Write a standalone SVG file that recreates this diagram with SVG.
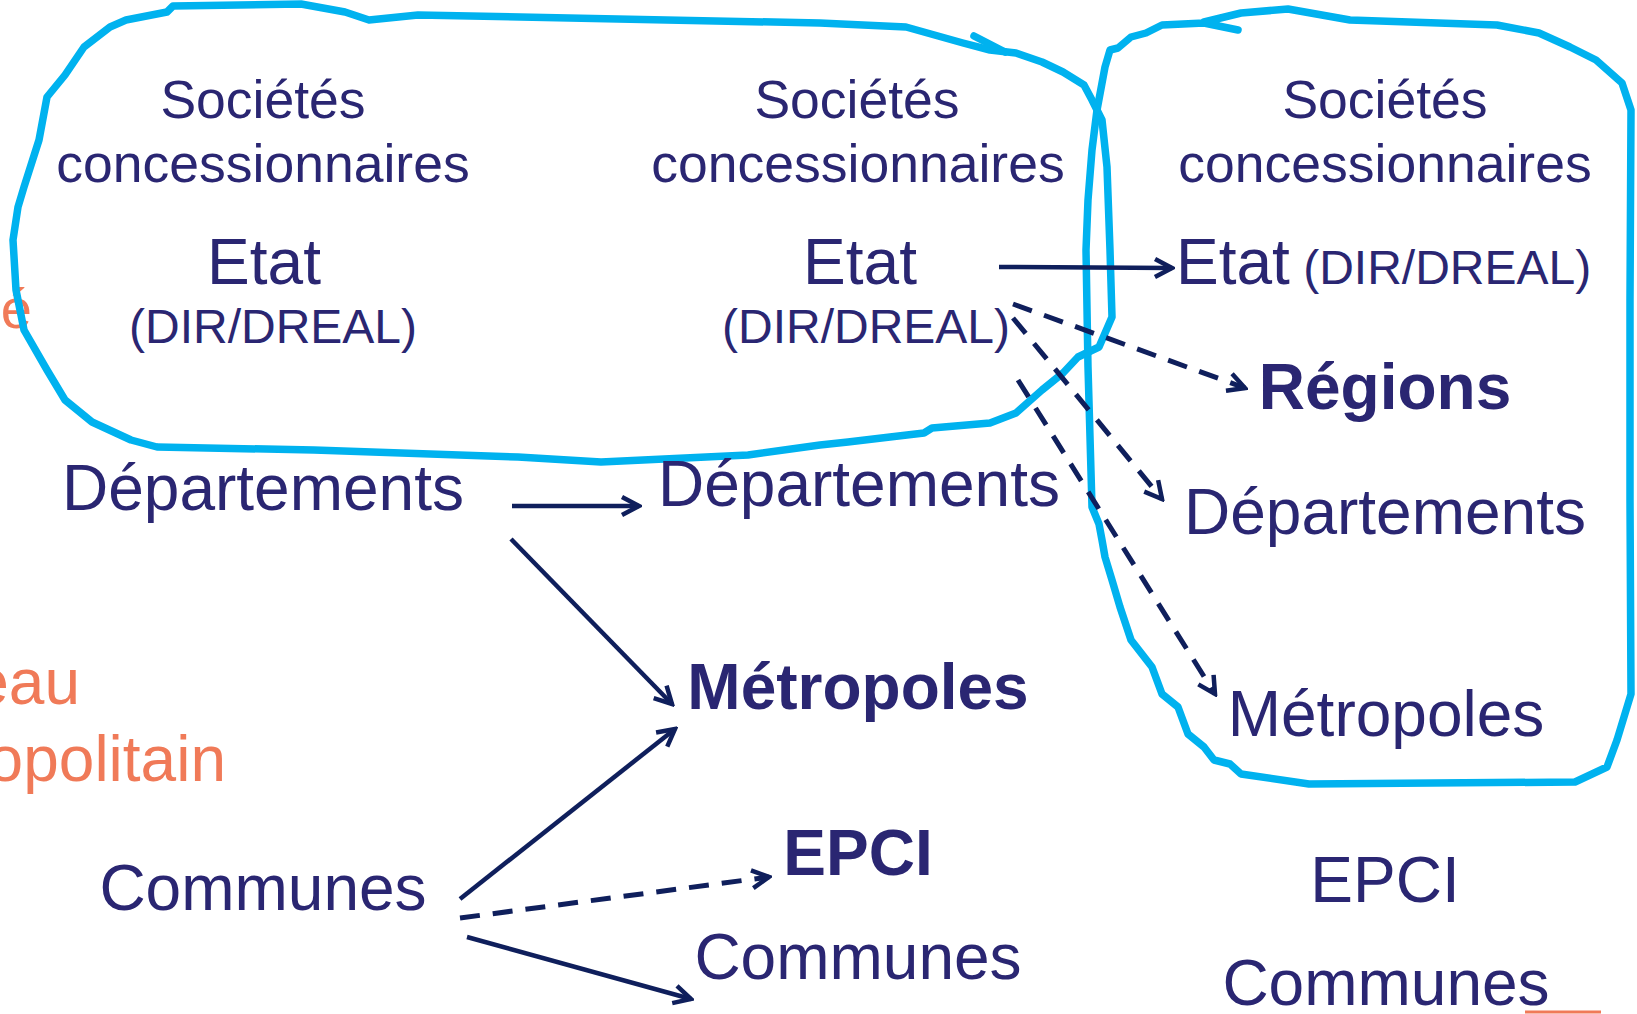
<svg xmlns="http://www.w3.org/2000/svg" width="1637" height="1014" viewBox="0 0 1637 1014">
<style>
text{font-family:"Liberation Sans",Arial,sans-serif;fill:#2A2672;text-anchor:middle}
.s{font-size:53.5px}
.m{font-size:64px}
.d{font-size:48px}
.b{font-weight:bold}
.o{fill:#F07A58;text-anchor:end;font-size:64px}
.loop{fill:none;stroke:#00B2EF;stroke-width:7.5;stroke-linejoin:round;stroke-linecap:round}
.arr{fill:none;stroke:#0F1F5C;stroke-width:4.5;marker-end:url(#ah)}
.dash{stroke-dasharray:20 13;stroke-width:5}
</style>
<defs>
<marker id="ah" viewBox="0 0 24 24" refX="21" refY="12" markerWidth="24" markerHeight="24" markerUnits="userSpaceOnUse" orient="auto">
<path d="M4,3 L21,12 L4,21" fill="none" stroke="#0F1F5C" stroke-width="4.5" stroke-linecap="butt"/>
</marker>
</defs>
<rect width="1637" height="1014" fill="#ffffff"/>
<g id="side-labels">
<text class="o" x="32" y="328" style="font-size:56px">é</text>
<text class="o" x="80" y="704">eau</text>
<text class="o" x="226" y="781">opolitain</text>
<line x1="1525" y1="1012" x2="1601" y2="1012" stroke="#F07A58" stroke-width="3"/>
</g>
<g id="loops">
<path class="loop" d="M173,6 L301,4 L345,12 L369,20 L418,15 L820,23 L906,27 L963,43 L990,50 L1016,53 L1042,62 L1063,72 L1084,85 L1092,100 L1102,120 L1107,167 L1110,250 L1112,317 L1099,347 L1078,357 L1063,373 L1042,390 L1016,413 L990,423 L932,428 L924,433 L890,437 L848,442 L820,445 L748,455 L601,462 L518,457 L314,450 L157,447 L131,440 L92,422 L65,400 L47,370 L24,330 L16,290 L13,240 L18,207 L24,187 L39,140 L47,97 L65,75 L84,47 L110,27 L126,20 L167,12 Z"/>
<path class="loop" d="M974,36 L1005,52"/>
<path class="loop" d="M1204,22 L1241,13 L1288,9 L1350,20 L1497,25 L1539,33 L1570,47 L1596,60 L1622,83 L1631,110 L1630,300 L1630,500 L1631,694 L1617,740 L1607,767 L1575,782 L1309,784 L1241,774 L1230,764 L1214,760 L1204,747 L1188,734 L1178,707 L1162,694 L1152,667 L1131,640 L1120,607 L1112,580 L1105,557 L1102,540 L1099,524 L1092,507 L1088,367 L1086,250 L1088,200 L1092,150 L1097,110 L1105,67 L1110,50 L1118,48 L1131,37 L1146,33 L1162,25 L1204,23 L1238,30"/>
</g>
<g id="col-left">
<text class="s" x="263" y="118">Sociétés</text>
<text class="s" x="263" y="182">concessionnaires</text>
<text class="m" x="264" y="284">Etat</text>
<text class="d" x="273" y="343">(DIR/DREAL)</text>
<text class="m" x="263" y="510">Départements</text>
<text class="m" x="263" y="910">Communes</text>
</g>
<g id="col-middle">
<text class="s" x="857" y="118">Sociétés</text>
<text class="s" x="858" y="182">concessionnaires</text>
<text class="m" x="860" y="284">Etat</text>
<text class="d" x="866" y="343">(DIR/DREAL)</text>
<text class="m" x="859" y="506">Départements</text>
<text class="m b" x="858" y="709">Métropoles</text>
<text class="m b" x="858" y="875">EPCI</text>
<text class="m" x="858" y="979">Communes</text>
</g>
<g id="col-right">
<text class="s" x="1385" y="118">Sociétés</text>
<text class="s" x="1385" y="182">concessionnaires</text>
<text class="m" x="1176" y="284" style="text-anchor:start">Etat<tspan class="d"> (DIR/DREAL)</tspan></text>
<text class="m b" x="1385" y="409">Régions</text>
<text class="m" x="1385" y="534">Départements</text>
<text class="m" x="1386" y="736">Métropoles</text>
<text class="m" x="1385" y="902">EPCI</text>
<text class="m" x="1386" y="1005">Communes</text>
</g>
<g id="connectors">
<line class="arr" x1="999" y1="267" x2="1172" y2="268"/>
<line class="arr dash" x1="1013" y1="304" x2="1245" y2="388"/>
<line class="arr dash" x1="1013" y1="318" x2="1162" y2="499"/>
<line class="arr dash" x1="1018" y1="380" x2="1215" y2="694"/>
<line class="arr" x1="512" y1="506" x2="639" y2="506"/>
<line class="arr" x1="511" y1="539" x2="672" y2="704"/>
<line class="arr" x1="460" y1="899" x2="675" y2="729"/>
<line class="arr dash" x1="460" y1="918" x2="769" y2="877"/>
<line class="arr" x1="467" y1="937" x2="691" y2="999"/>
</g>
</svg>
